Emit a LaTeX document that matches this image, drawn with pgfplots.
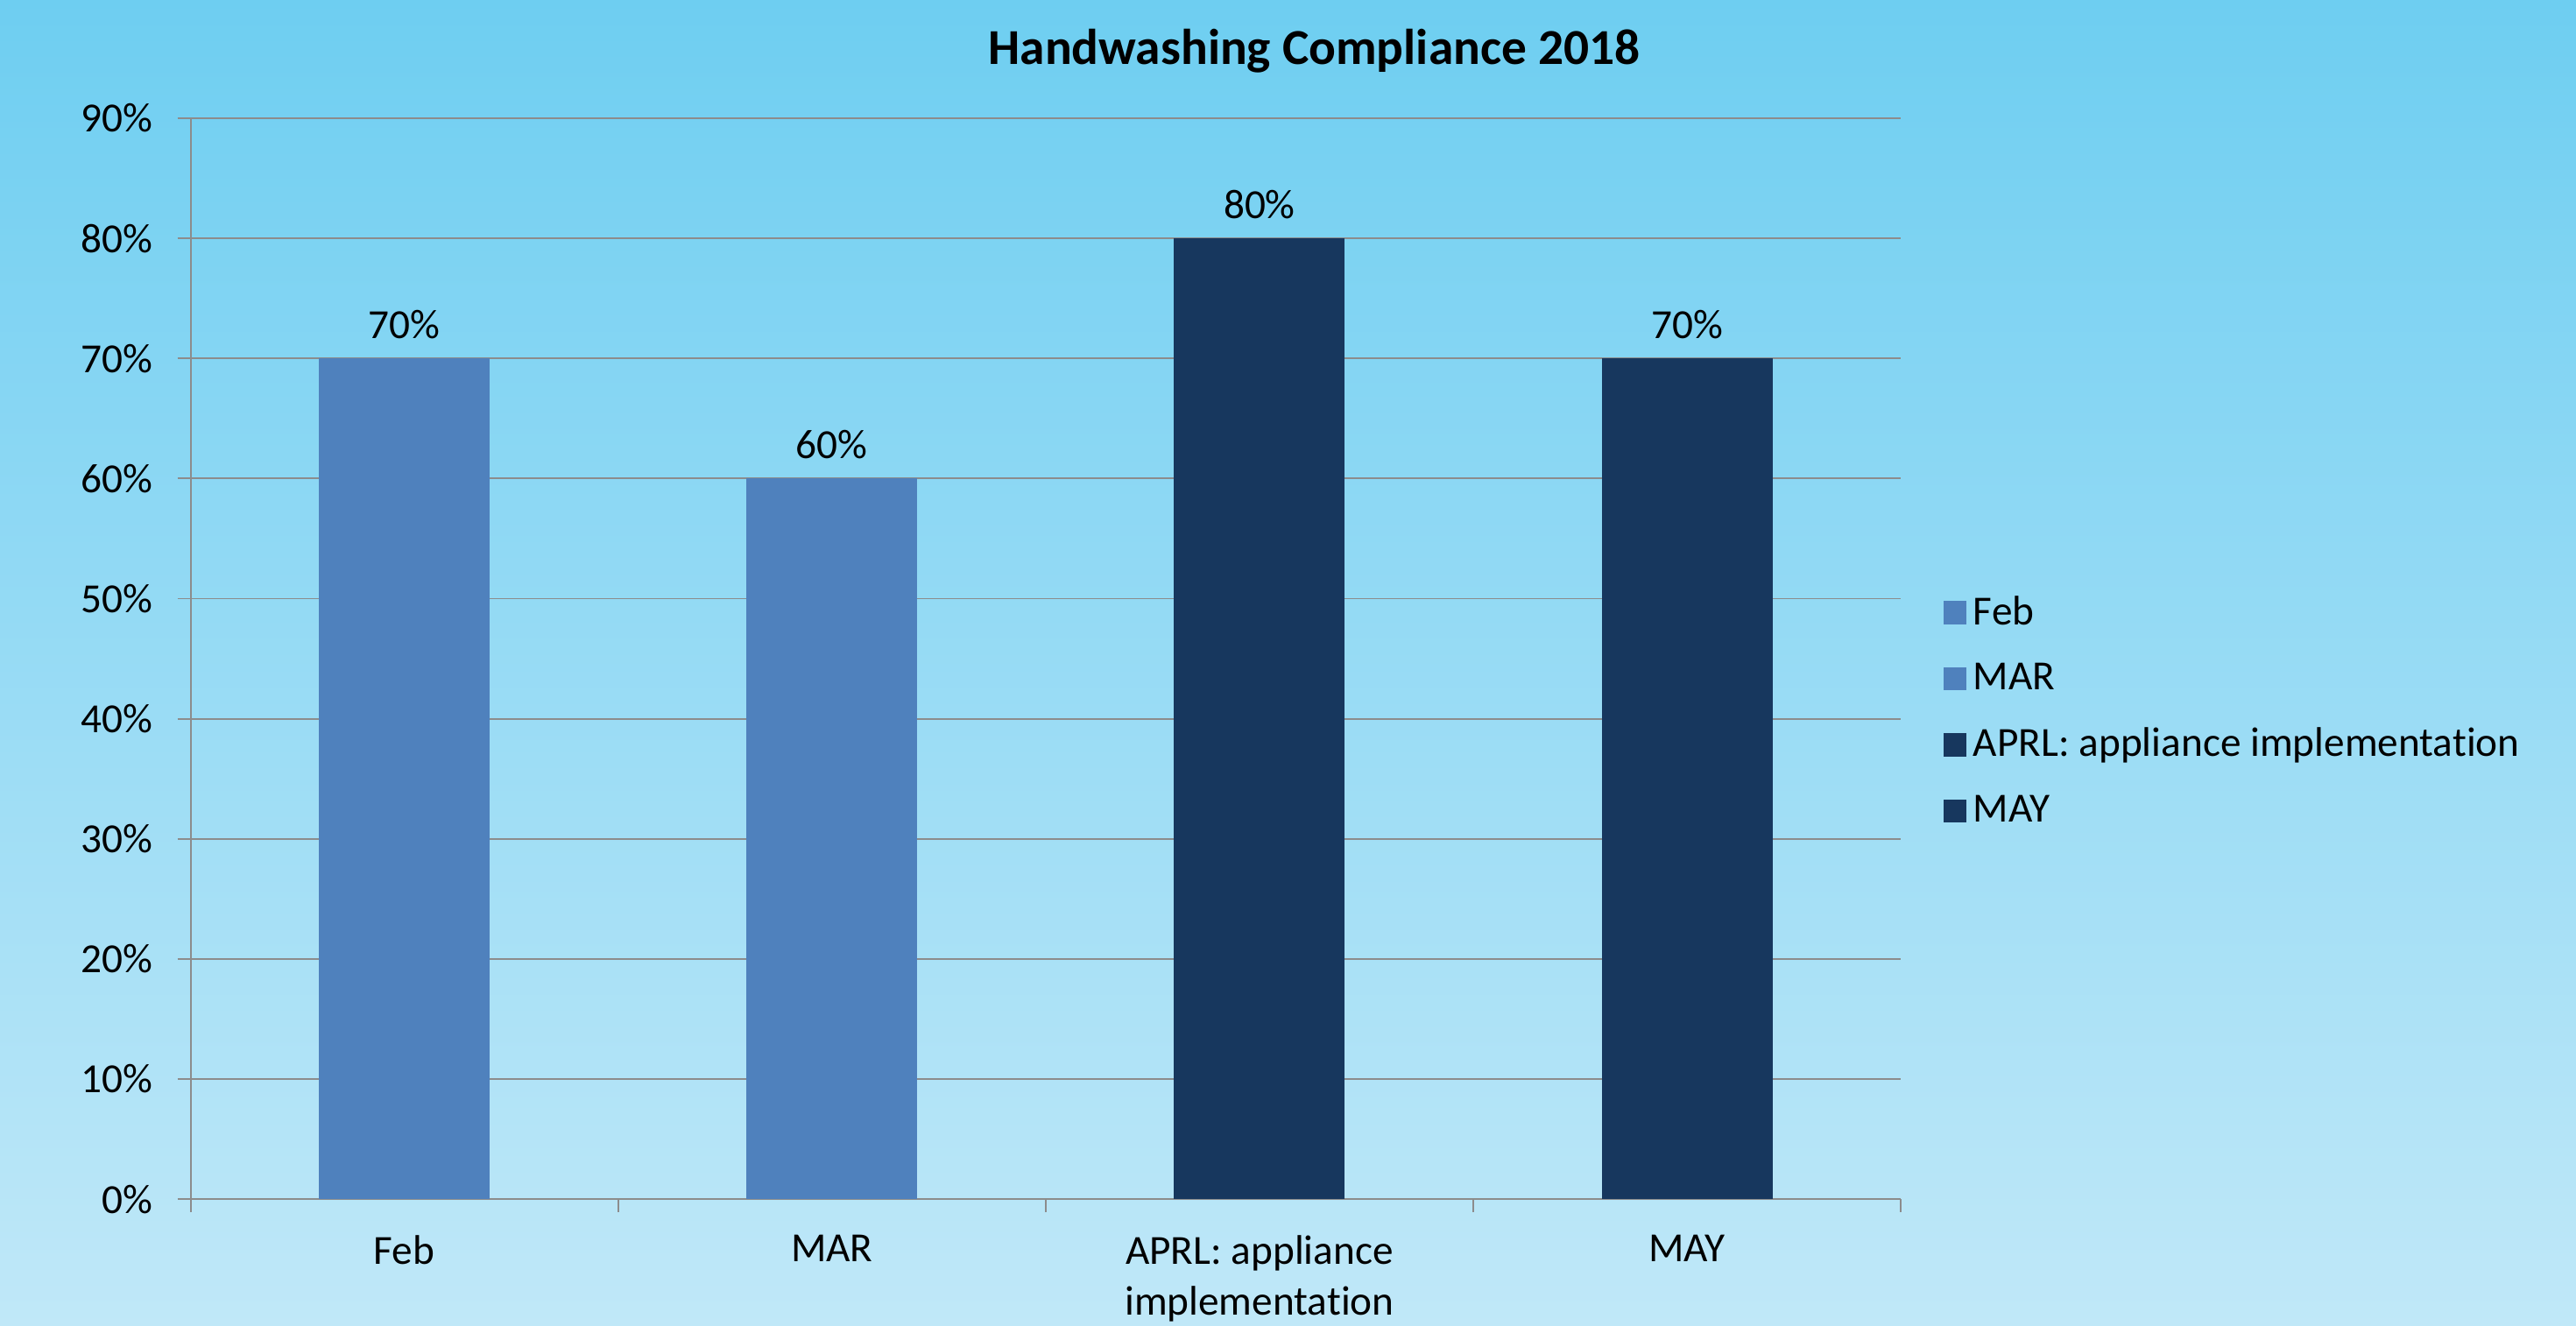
\documentclass[border=0pt]{standalone}
\usepackage{pgfplots}
\pgfplotsset{compat=1.18}
\usepackage{fontspec}
\setmainfont{Carlito}[Ligatures=NoCommon]
\definecolor{barlight}{HTML}{4F81BD}
\definecolor{bardark}{HTML}{17375E}
\definecolor{gridgray}{HTML}{8C8C8C}
\definecolor{bgtop}{HTML}{6ECEF1}
\definecolor{bgbot}{HTML}{C0E8F8}
\newcommand{\lblfont}{\fontsize{12.6}{15.6}\selectfont}
\begin{document}
\begin{tikzpicture}
\shade[top color=bgtop, bottom color=bgbot] (-58pt,-38.5pt) rectangle (726pt,365pt);
\begin{axis}[
  at={(0pt,0pt)}, anchor=south west,
  scale only axis, width=520.5pt, height=329pt,
  ybar, bar width=52pt,
  xmin=-0.5, xmax=3.5, ymin=0, ymax=90,
  xtick={-0.5,0.5,1.5,2.5,3.5},
  x tick label as interval,
  xticklabels={Feb,MAR,{APRL: appliance\\implementation},MAY},
  ytick={0,10,...,90},
  yticklabels={0\%,10\%,20\%,30\%,40\%,50\%,60\%,70\%,80\%,90\%},
  ymajorgrids,
  grid style={gridgray, line width=0.5pt},
  axis line style={gridgray, line width=0.5pt},
  axis x line*=bottom, axis y line*=left,
  tick style={gridgray, line width=0.5pt},
  tick align=outside, major tick length=4pt,
  ticklabel style={font=\lblfont, text=black},
  xticklabel style={align=center, yshift=-3.5pt},
  yticklabel style={xshift=-4pt},
  nodes near coords={\pgfmathprintnumber[assume math mode=true]{\pgfplotspointmeta}\%},
  nodes near coords style={font=\lblfont, text=black, yshift=2.5pt},
  title={Handwashing Compliance 2018},
  title style={at={(0.657,1.044)}, anchor=center, font=\bfseries\fontsize{15.3}{18}\selectfont},
  legend style={at={(1.019,0.571)}, anchor=north west, draw=none, fill=none, font=\lblfont, row sep=6.2pt},
  legend cell align=left,
  legend image code/.code={\fill[#1] (0pt,-3.5pt) rectangle (7pt,3.5pt);},
]
\addplot[fill=barlight, draw=none, bar shift=0pt] coordinates {(0,70)};
\addplot[fill=barlight, draw=none, bar shift=0pt] coordinates {(1,60)};
\addplot[fill=bardark, draw=none, bar shift=0pt] coordinates {(2,80)};
\addplot[fill=bardark, draw=none, bar shift=0pt] coordinates {(3,70)};
\legend{Feb, MAR, APRL: appliance implementation, MAY}
\end{axis}
\pgfresetboundingbox
\path[use as bounding box] (-58pt,-38.5pt) rectangle (726pt,365pt);
\end{tikzpicture}
\end{document}
